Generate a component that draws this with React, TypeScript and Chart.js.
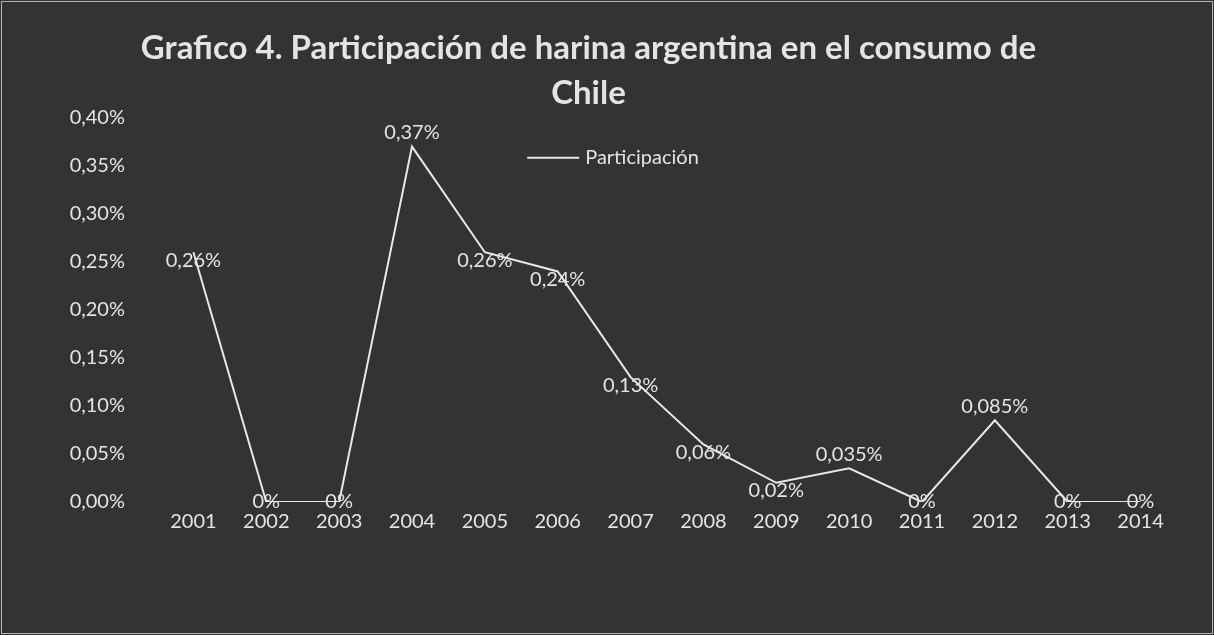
import React, { useEffect, useRef } from "react";
import { Chart, registerables } from "chart.js";

Chart.register(...registerables);

const years = ["2001", "2002", "2003", "2004", "2005", "2006", "2007", "2008", "2009", "2010", "2011", "2012", "2013", "2014"];
const participacion = [0.26, 0, 0, 0.37, 0.26, 0.24, 0.13, 0.06, 0.02, 0.035, 0, 0.085, 0, 0];
const yTickValues = [0, 0.05, 0.1, 0.15, 0.2, 0.25, 0.3, 0.35, 0.4];
const seriesName = "Participación";
const titleLines = ["Grafico 4. Participación de harina argentina en el consumo de", "Chile"];

const FONT = "Lato, 'Open Sans', sans-serif";
const TEXT = "#e4e4e4";
const BG = "#333333";

function fmtLabel(v: number): string {
  if (v === 0) return "0%";
  const two = Math.abs(v * 100 - Math.round(v * 100)) < 1e-9;
  return v.toFixed(two ? 2 : 3).replace(".", ",") + "%";
}

function fmtTick(v: number): string {
  return v.toFixed(2).replace(".", ",") + "%";
}

const bgPlugin = {
  id: "bgPlugin",
  beforeDraw(chart: any) {
    const { ctx, width, height } = chart;
    ctx.save();
    ctx.fillStyle = BG;
    ctx.fillRect(0, 0, width, height);
    ctx.strokeStyle = "#b5b5b5";
    ctx.lineWidth = 1;
    ctx.strokeRect(1.5, 1.5, width - 3, height - 3);
    ctx.restore();
  },
};

const legendPlugin = {
  id: "legendPlugin",
  afterDraw(chart: any) {
    const { ctx, chartArea, width } = chart;
    const ds = chart.data.datasets[0];
    ctx.save();
    ctx.font = `20px ${FONT}`;
    const tw = ctx.measureText(ds.label).width;
    const lineLen = 52;
    const gap = 6;
    const total = lineLen + gap + tw;
    const x0 = width / 2 - total / 2 + 6;
    const y = chartArea.top + 40;
    ctx.strokeStyle = ds.borderColor;
    ctx.lineWidth = ds.borderWidth;
    ctx.beginPath();
    ctx.moveTo(x0, y);
    ctx.lineTo(x0 + lineLen, y);
    ctx.stroke();
    ctx.fillStyle = TEXT;
    ctx.textAlign = "left";
    ctx.textBaseline = "middle";
    ctx.fillText(ds.label, x0 + lineLen + gap, y);
    ctx.restore();
  },
};

const labelPlugin = {
  id: "labelPlugin",
  afterDatasetsDraw(chart: any) {
    const { ctx } = chart;
    const meta = chart.getDatasetMeta(0);
    const vals: number[] = chart.data.datasets[0].data;
    ctx.save();
    ctx.font = `20px ${FONT}`;
    ctx.fillStyle = TEXT;
    ctx.textAlign = "center";
    ctx.textBaseline = "middle";
    meta.data.forEach((pt: any, i: number) => {
      const v = vals[i];
      let dy = 8;
      if (v === 0) dy = 0;
      else if (i > 0 && i < vals.length - 1 && v > vals[i - 1] && v > vals[i + 1]) dy = -14;
      ctx.fillText(fmtLabel(v), pt.x, pt.y + dy);
    });
    ctx.restore();
  },
};

export default function App() {
  const ref = useRef<HTMLCanvasElement | null>(null);

  useEffect(() => {
    if (!ref.current) return;
    const chart = new Chart(ref.current, {
      type: "line",
      data: {
        labels: years,
        datasets: [
          {
            label: seriesName,
            data: participacion,
            borderColor: "#e8e8e8",
            borderWidth: 2,
            pointRadius: 0,
            tension: 0,
            fill: false,
          },
        ],
      },
      options: {
        responsive: false,
        animation: false,
        maintainAspectRatio: false,
        layout: { padding: { left: 0, right: 37, top: 0, bottom: 88 } },
        plugins: {
          legend: { display: false },
          tooltip: { enabled: false },
          title: {
            display: true,
            text: titleLines,
            color: TEXT,
            font: { family: FONT, size: 33, weight: "bold", lineHeight: 1.36 },
            padding: { top: 26, bottom: 2 },
          },
        },
        scales: {
          x: {
            offset: true,
            grid: { display: false },
            border: { display: false },
            ticks: { color: TEXT, font: { family: FONT, size: 20 }, padding: 0, maxRotation: 0 },
            afterFit(scale: any) {
              scale.height = 45;
            },
          },
          y: {
            min: 0,
            max: 0.4,
            grid: { display: false },
            border: { display: false },
            afterBuildTicks(scale: any) {
              scale.ticks = yTickValues.map((v) => ({ value: v }));
            },
            ticks: {
              color: TEXT,
              font: { family: FONT, size: 20 },
              padding: 24,
              callback: (v: any) => fmtTick(Number(v)),
            },
            afterFit(scale: any) {
              scale.width = 157;
            },
          },
        },
      },
      plugins: [bgPlugin, labelPlugin, legendPlugin],
    } as any);
    return () => chart.destroy();
  }, []);

  return (
    <div style={{ position: "absolute", left: 0, top: 0, width: 1214, height: 635 }}>
      <canvas ref={ref} width={1214} height={635} style={{ display: "block" }} />
    </div>
  );
}
